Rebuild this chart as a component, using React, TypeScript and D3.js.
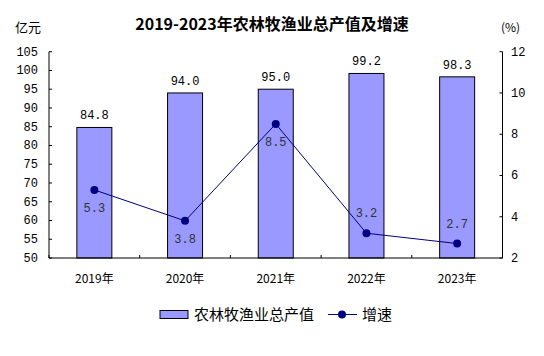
import React from "react";
import * as d3 from "d3";

const years = ["2019年", "2020年", "2021年", "2022年", "2023年"];
const output = [84.8, 94.0, 95.0, 99.2, 98.3];
const growth = [5.3, 3.8, 8.5, 3.2, 2.7];
const leftTicks = [50, 55, 60, 65, 70, 75, 80, 85, 90, 95, 100, 105];
const rightTicks = [2, 4, 6, 8, 10, 12];
const growthLabelAbove = [false, false, false, true, true];

const W = 544, H = 356;
const L = 49, R = 502.5, T = 51.7, B = 258;
const numFont = "'Liberation Mono', 'DejaVu Sans Mono', monospace";
const cjkFont = "'Noto Sans CJK SC', sans-serif";

export default function App() {
  const x = d3.scaleBand<string>().domain(years).range([L, R]).paddingInner(0).paddingOuter(0);
  const yL = d3.scaleLinear().domain([50, 105]).range([B, T]);
  const yR = d3.scaleLinear().domain([2, 12]).range([B, T]);
  const bw = x.bandwidth();
  const barW = 35;
  const cx = (d: string) => (x(d) as number) + bw / 2;
  const line = d3.line<number>().x((_, i) => cx(years[i])).y((d) => yR(d));
  const bounds = [...years.map((d) => x(d) as number), R];

  return (
    <svg width={W} height={H} style={{ position: "absolute", left: 0, top: 0, background: "#fff" }}>
      <text x={272} y={30} textAnchor="middle" fontFamily={cjkFont} fontWeight="bold" fontSize={16} fill="#000">
        2019-2023年农林牧渔业总产值及增速
      </text>
      <text x={15} y={32} fontFamily={cjkFont} fontSize={13} fill="#000">亿元</text>
      <text x={501} y={32} fontFamily={cjkFont} fontSize={12} fill="#000">(%)</text>

      {years.map((d, i) => (
        <rect key={d} x={cx(d) - barW / 2} y={yL(output[i])} width={barW} height={B - yL(output[i])}
          fill="#9999FF" stroke="#000" strokeWidth={1} />
      ))}

      {/* left axis */}
      <line x1={L} x2={L} y1={T} y2={B} stroke="#000" />
      {leftTicks.map((t) => (
        <g key={t}>
          <line x1={L} x2={L + 3} y1={yL(t)} y2={yL(t)} stroke="#000" />
          <text x={38} y={yL(t) + 4} textAnchor="end" fontFamily={numFont} fontSize={12} fill="#000">{t}</text>
        </g>
      ))}
      {/* right axis */}
      <line x1={R} x2={R} y1={T} y2={B} stroke="#000" />
      {rightTicks.map((t) => (
        <g key={t}>
          <line x1={R - 3} x2={R} y1={yR(t)} y2={yR(t)} stroke="#000" />
          <text x={511} y={yR(t) + 4} textAnchor="start" fontFamily={numFont} fontSize={12} fill="#000">{t}</text>
        </g>
      ))}
      {/* x axis */}
      <line x1={L} x2={R} y1={B} y2={B} stroke="#000" />
      {bounds.map((b, i) => (
        <line key={i} x1={b} x2={b} y1={B} y2={B - 3} stroke="#000" />
      ))}
      {years.map((d) => (
        <text key={d} x={cx(d)} y={283} textAnchor="middle" fontFamily={cjkFont} fontSize={12} fill="#000">{d}</text>
      ))}

      {/* bar labels */}
      {years.map((d, i) => (
        <text key={d} x={cx(d)} y={yL(output[i]) - 8} textAnchor="middle" fontFamily={numFont} fontSize={12} fill="#000">
          {output[i].toFixed(1)}
        </text>
      ))}

      {/* growth line */}
      <path d={line(growth) || ""} fill="none" stroke="#000080" strokeWidth={1} />
      {growth.map((g, i) => (
        <circle key={i} cx={cx(years[i])} cy={yR(g)} r={4} fill="#000080" />
      ))}
      {growth.map((g, i) => (
        <text key={i} x={cx(years[i])} y={growthLabelAbove[i] ? yR(g) - 16 : yR(g) + 22}
          textAnchor="middle" fontFamily={numFont} fontSize={12} fill="#333">
          {g.toFixed(1)}
        </text>
      ))}

      {/* legend */}
      <rect x={160} y={310.5} width={28} height={8} fill="#9999FF" stroke="#000" />
      <text x={194} y={320} fontFamily={cjkFont} fontSize={15} fill="#000">农林牧渔业总产值</text>
      <line x1={328} x2={357} y1={314.5} y2={314.5} stroke="#000080" />
      <circle cx={342} cy={314.5} r={4} fill="#000080" />
      <text x={362} y={320} fontFamily={cjkFont} fontSize={15} fill="#000">增速</text>
    </svg>
  );
}
